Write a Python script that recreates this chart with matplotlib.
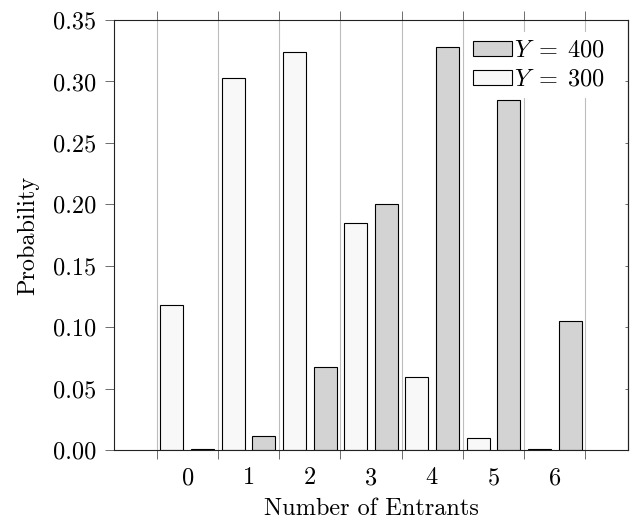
import numpy as np
import matplotlib
matplotlib.use("Agg")
import matplotlib.pyplot as plt
from matplotlib.ticker import FormatStrFormatter

plt.rcParams["font.family"] = "serif"
plt.rcParams["font.serif"] = ["cmr10"]
plt.rcParams["mathtext.fontset"] = "cm"
plt.rcParams["axes.formatter.use_mathtext"] = True
plt.rcParams["font.size"] = 17.5

# data
entrants = [0, 1, 2, 3, 4, 5, 6]
prob_y300 = [0.118, 0.303, 0.324, 0.185, 0.060, 0.010, 0.001]
prob_y400 = [0.001, 0.012, 0.068, 0.200, 0.328, 0.285, 0.105]
yticks = [0.00, 0.05, 0.10, 0.15, 0.20, 0.25, 0.30, 0.35]

fig = plt.figure(figsize=(6.31, 5.22), dpi=100)
ax = fig.add_axes([0.1802, 0.1374, 0.8155, 0.8243])

x = np.array(entrants)
w = 0.375
ax.bar(x - 0.25, prob_y300, w, color="#f8f8f8", edgecolor="black", linewidth=0.8,
       label=r"$Y\;=\;300$", zorder=2)
ax.bar(x + 0.25, prob_y400, w, color="#d3d3d3", edgecolor="black", linewidth=0.8,
       label=r"$Y\;=\;400$", zorder=2)

ax.set_xlim(-1.2, 7.2)
ax.set_ylim(0, 0.35)
ax.set_xticks(entrants)
ax.set_xticks(np.arange(-0.5, 7, 1), minor=True)
ax.set_yticks(yticks)
ax.yaxis.set_major_formatter(FormatStrFormatter("%.2f"))

ax.tick_params(axis="x", which="major", length=0, pad=12)
ax.tick_params(axis="x", which="minor", direction="out", length=6.5, width=0.6,
               top=True, bottom=True, color="#555555")
ax.tick_params(axis="y", which="major", direction="out", length=6.5, width=0.6,
               left=True, right=False, color="#555555", pad=6)
ax.grid(axis="x", which="minor", color="#bdbdbd", linewidth=0.8, zorder=0)
ax.set_axisbelow(True)

sec = ax.secondary_yaxis("right")
sec.set_yticks(yticks)
sec.tick_params(direction="in", length=2.5, width=0.6, labelright=False, color="#555555")

for s in list(ax.spines.values()) + list(sec.spines.values()):
    s.set_linewidth(0.8)
    s.set_color("#222222")

ax.set_xlabel("Number of Entrants", labelpad=6)
ax.set_ylabel("Probability", labelpad=10)

handles, labels = ax.get_legend_handles_labels()
leg = ax.legend(handles[::-1], labels[::-1], loc="upper right",
                bbox_to_anchor=(0.969, 0.971), borderaxespad=0,
                frameon=True, fancybox=False, framealpha=1, edgecolor="none",
                handlelength=1.6, handleheight=0.55, handletextpad=0.1,
                labelspacing=0.28, borderpad=0.3)
leg.set_zorder(5)

fig.savefig("out.png", dpi=100)
